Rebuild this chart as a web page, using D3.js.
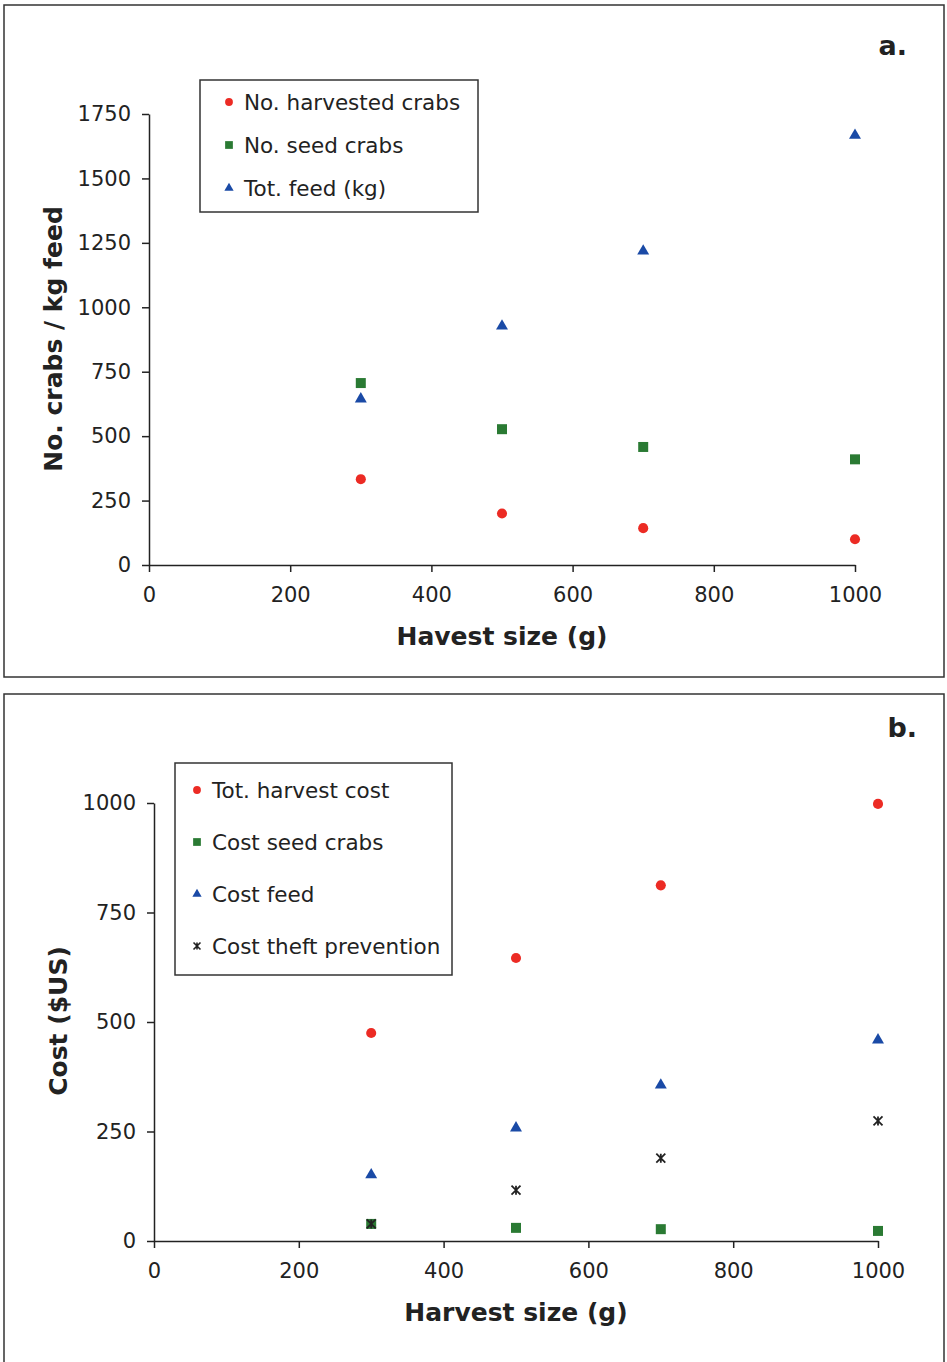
<!DOCTYPE html>
<html>
<head>
<meta charset="utf-8">
<script src="https://cdn.jsdelivr.net/npm/d3@7"></script>
<style>
    body { margin: 0; background: #fff; }
    svg { display: block; font-family: "DejaVu Sans", Verdana, sans-serif; }
    .tick line, .domain { stroke: #222; stroke-width: 1.5px; }
</style>
</head>
<body>
<main></main>
<script>
// harvest sizes (g)
const sizes = [300, 500, 700, 1000]

// panel a
const harvestedCrabs = [333, 200, 143, 100]
const seedCrabs = [706, 527, 458, 410]
const totFeed = [644, 927, 1218, 1667]

// panel b
const totHarvestCost = [475, 646, 812, 998]
const costSeedCrabs = [39, 30, 27, 23]
const costFeed = [151, 258, 356, 459]
const costTheft = [39, 116, 189, 274]

const xTicks = [0, 200, 400, 600, 800, 1000]
const yTicksA = [0, 250, 500, 750, 1000, 1250, 1500, 1750]
const yTicksB = [0, 250, 500, 750, 1000]

const red = "#ec2b24", green = "#2a7a33", blue = "#1a4aa6", black = "#222"

const width = 947, height = 1362

const svg = d3.select("main")
    .append("svg")
    .attr("width", width)
    .attr("height", height)

// Excel style star marker: an X with a vertical bar
const star = {
    draw(ctx, size) {
        const r = Math.sqrt(size) / 2
        ctx.moveTo(-r, -r); ctx.lineTo(r, r)
        ctx.moveTo(r, -r); ctx.lineTo(-r, r)
        ctx.moveTo(0, -r); ctx.lineTo(0, r)
    }
}

const markers = {
    circle: {type: d3.symbolCircle, size: 80, stroke: false},
    square: {type: d3.symbolSquare, size: 100, stroke: false},
    triangle: {type: d3.symbolTriangle, size: 62, stroke: false},
    star: {type: star, size: 81, stroke: true}
}

function marker(sel, m, color) {
    let spec = markers[m]
    sel.attr("d", d3.symbol(spec.type, spec.size)())
    if (spec.stroke) sel.attr("fill", "none").attr("stroke", color).attr("stroke-width", 1.8)
    else sel.attr("fill", color)
}

function styleAxis(a) {
    a.attr("font-family", null).attr("font-size", 21)
    a.selectAll("text").attr("fill", black)
}

function drawPanel(p) {
    let g = svg.append("g")

    g.append("rect")
        .attr("x", p.box[0]).attr("y", p.box[1])
        .attr("width", p.box[2]).attr("height", p.box[3])
        .attr("fill", "none")
        .attr("stroke", "#333")
        .attr("stroke-width", 1.5)

    const x = d3.scaleLinear().domain([0, 1000]).range([p.left, p.right])
    const y = d3.scaleLinear().domain([0, p.yMax]).range([p.bottom, p.top])

    g.append("g")
        .attr("transform", `translate(0,${p.bottom})`)
        .call(d3.axisBottom(x).tickValues(xTicks).tickFormat(d3.format("d")).tickSize(7).tickPadding(15).tickSizeOuter(0))
        .call(styleAxis)

    g.append("g")
        .attr("transform", `translate(${p.left},0)`)
        .call(d3.axisLeft(y).tickValues(p.yTicks).tickFormat(d3.format("d")).tickSize(7).tickPadding(11).tickSizeOuter(0))
        .call(styleAxis)

    g.append("text")
        .attr("x", (p.left + p.right) / 2)
        .attr("y", p.xTitleY)
        .attr("text-anchor", "middle")
        .attr("font-size", 25)
        .attr("font-weight", "bold")
        .attr("fill", black)
        .text(p.xTitle)

    g.append("text")
        .attr("transform", `translate(${p.yTitleX},${p.yTitleMid}) rotate(-90)`)
        .attr("text-anchor", "middle")
        .attr("font-size", 25)
        .attr("font-weight", "bold")
        .attr("fill", black)
        .text(p.yTitle)

    g.append("text")
        .attr("x", p.tag[0]).attr("y", p.tag[1])
        .attr("text-anchor", "end")
        .attr("font-size", 27)
        .attr("font-weight", "bold")
        .attr("fill", black)
        .text(p.tag[2])

    p.series.forEach(s => {
        g.append("g").selectAll("path")
            .data(s.values)
            .enter()
            .append("path")
            .attr("transform", (d, i) => `translate(${x(sizes[i])},${y(d)})`)
            .call(marker, s.marker, s.color)
    })

    // legend
    let lg = g.append("g").attr("transform", `translate(${p.legend[0]},${p.legend[1]})`)
    lg.append("rect")
        .attr("width", p.legend[2]).attr("height", p.legend[3])
        .attr("fill", "#fff")
        .attr("stroke", "#333")
        .attr("stroke-width", 1.5)
    let items = lg.selectAll(".item")
        .data(p.series)
        .enter()
        .append("g")
        .attr("class", "item")
        .attr("transform", (d, i) => `translate(${p.legendMarkerX},${p.legendFirst + i * p.legendStep})`)
    items.append("path")
        .each(function (d) {
            let spec = markers[d.marker]
            d3.select(this)
                .attr("d", d3.symbol(spec.type, spec.size * 0.6)())
            if (spec.stroke) d3.select(this).attr("fill", "none").attr("stroke", d.color).attr("stroke-width", 1.6)
            else d3.select(this).attr("fill", d.color)
        })
    items.append("text")
        .attr("x", 15)
        .attr("dy", "0.35em")
        .attr("font-size", 21.5)
        .attr("fill", black)
        .text(d => d.name)
}

drawPanel({
    box: [4, 5, 940, 672],
    left: 149, right: 855, top: 114, bottom: 565,
    yMax: 1750, yTicks: yTicksA,
    xTitle: "Havest size (g)", xTitleY: 645,
    yTitle: "No. crabs / kg feed", yTitleX: 62, yTitleMid: 339,
    tag: [907, 55, "a."],
    legend: [200, 80, 278, 132],
    legendMarkerX: 29, legendFirst: 22, legendStep: 43,
    series: [
        {name: "No. harvested crabs", values: harvestedCrabs, marker: "circle", color: red},
        {name: "No. seed crabs", values: seedCrabs, marker: "square", color: green},
        {name: "Tot. feed (kg)", values: totFeed, marker: "triangle", color: blue}
    ]
})

drawPanel({
    box: [4, 694, 940, 700],
    left: 154, right: 878, top: 803, bottom: 1241,
    yMax: 1000, yTicks: yTicksB,
    xTitle: "Harvest size (g)", xTitleY: 1321,
    yTitle: "Cost ($US)", yTitleX: 67, yTitleMid: 1021,
    tag: [917, 737, "b."],
    legend: [175, 763, 277, 212],
    legendMarkerX: 22, legendFirst: 27, legendStep: 52,
    series: [
        {name: "Tot. harvest cost", values: totHarvestCost, marker: "circle", color: red},
        {name: "Cost seed crabs", values: costSeedCrabs, marker: "square", color: green},
        {name: "Cost feed", values: costFeed, marker: "triangle", color: blue},
        {name: "Cost theft prevention", values: costTheft, marker: "star", color: black}
    ]
})
</script>
</body>
</html>
